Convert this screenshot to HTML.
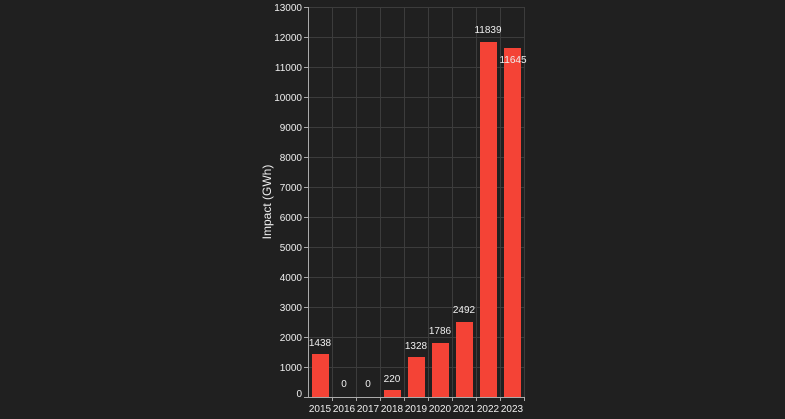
<!DOCTYPE html>
<html><head><meta charset="utf-8"><style>
html,body{margin:0;padding:0;background:#202020;}
svg{display:block;font-family:"Liberation Sans",sans-serif;}
</style></head><body>
<svg width="785" height="419" xmlns="http://www.w3.org/2000/svg">
<rect width="785" height="419" fill="#202020"/>
<g stroke="#3c3c3c" stroke-width="1">
<line x1="308" x2="524" y1="7.5" y2="7.5"/><line x1="308" x2="524" y1="37.5" y2="37.5"/><line x1="308" x2="524" y1="67.5" y2="67.5"/><line x1="308" x2="524" y1="97.5" y2="97.5"/><line x1="308" x2="524" y1="127.5" y2="127.5"/><line x1="308" x2="524" y1="157.5" y2="157.5"/><line x1="308" x2="524" y1="187.5" y2="187.5"/><line x1="308" x2="524" y1="217.5" y2="217.5"/><line x1="308" x2="524" y1="247.5" y2="247.5"/><line x1="308" x2="524" y1="277.5" y2="277.5"/><line x1="308" x2="524" y1="307.5" y2="307.5"/><line x1="308" x2="524" y1="337.5" y2="337.5"/><line x1="308" x2="524" y1="367.5" y2="367.5"/>
<line x1="332.5" x2="332.5" y1="7" y2="397"/><line x1="356.5" x2="356.5" y1="7" y2="397"/><line x1="380.5" x2="380.5" y1="7" y2="397"/><line x1="404.5" x2="404.5" y1="7" y2="397"/><line x1="428.5" x2="428.5" y1="7" y2="397"/><line x1="452.5" x2="452.5" y1="7" y2="397"/><line x1="476.5" x2="476.5" y1="7" y2="397"/><line x1="500.5" x2="500.5" y1="7" y2="397"/><line x1="524.5" x2="524.5" y1="7" y2="397"/>
</g>
<g stroke="#aaa" stroke-width="1">
<line x1="308.5" x2="308.5" y1="7" y2="397"/><line x1="308" x2="524" y1="397.5" y2="397.5"/>
<line x1="304" x2="308" y1="7.5" y2="7.5"/><line x1="304" x2="308" y1="37.5" y2="37.5"/><line x1="304" x2="308" y1="67.5" y2="67.5"/><line x1="304" x2="308" y1="97.5" y2="97.5"/><line x1="304" x2="308" y1="127.5" y2="127.5"/><line x1="304" x2="308" y1="157.5" y2="157.5"/><line x1="304" x2="308" y1="187.5" y2="187.5"/><line x1="304" x2="308" y1="217.5" y2="217.5"/><line x1="304" x2="308" y1="247.5" y2="247.5"/><line x1="304" x2="308" y1="277.5" y2="277.5"/><line x1="304" x2="308" y1="307.5" y2="307.5"/><line x1="304" x2="308" y1="337.5" y2="337.5"/><line x1="304" x2="308" y1="367.5" y2="367.5"/><line x1="304" x2="308" y1="397.5" y2="397.5"/>
<line x1="332.5" x2="332.5" y1="397" y2="401"/><line x1="356.5" x2="356.5" y1="397" y2="401"/><line x1="380.5" x2="380.5" y1="397" y2="401"/><line x1="404.5" x2="404.5" y1="397" y2="401"/><line x1="428.5" x2="428.5" y1="397" y2="401"/><line x1="452.5" x2="452.5" y1="397" y2="401"/><line x1="476.5" x2="476.5" y1="397" y2="401"/><line x1="500.5" x2="500.5" y1="397" y2="401"/><line x1="524.5" x2="524.5" y1="397" y2="401"/>
</g>
<g fill="#f44336">
<rect x="312" y="354" width="17" height="43"/>
<rect x="384" y="390" width="17" height="7"/>
<rect x="408" y="357" width="17" height="40"/>
<rect x="432" y="343" width="17" height="54"/>
<rect x="456" y="322" width="17" height="75"/>
<rect x="480" y="42" width="17" height="355"/>
<rect x="504" y="48" width="17" height="349"/>
</g>
<g fill="#eee" font-size="10" text-anchor="end">
<text x="302" y="11">13000</text><text x="302" y="41">12000</text><text x="302" y="71">11000</text><text x="302" y="101">10000</text><text x="302" y="131">9000</text><text x="302" y="161">8000</text><text x="302" y="191">7000</text><text x="302" y="221">6000</text><text x="302" y="251">5000</text><text x="302" y="281">4000</text><text x="302" y="311">3000</text><text x="302" y="341">2000</text><text x="302" y="371">1000</text><text x="302" y="397">0</text>
</g>
<g fill="#eee" font-size="10" text-anchor="middle">
<text x="320" y="412">2015</text><text x="344" y="412">2016</text><text x="368" y="412">2017</text><text x="392" y="412">2018</text><text x="416" y="412">2019</text><text x="440" y="412">2020</text><text x="464" y="412">2021</text><text x="488" y="412">2022</text><text x="512" y="412">2023</text>
<text x="320" y="346">1438</text><text x="344" y="387">0</text><text x="368" y="387">0</text><text x="392" y="382">220</text><text x="416" y="349">1328</text><text x="440" y="334">1786</text><text x="464" y="313">2492</text><text x="488" y="33">11839</text><text x="513" y="63">11645</text>
</g>
<text transform="translate(271,202) rotate(-90)" fill="#eee" font-size="12" text-anchor="middle">Impact (GWh)</text>
</svg>
</body></html>
